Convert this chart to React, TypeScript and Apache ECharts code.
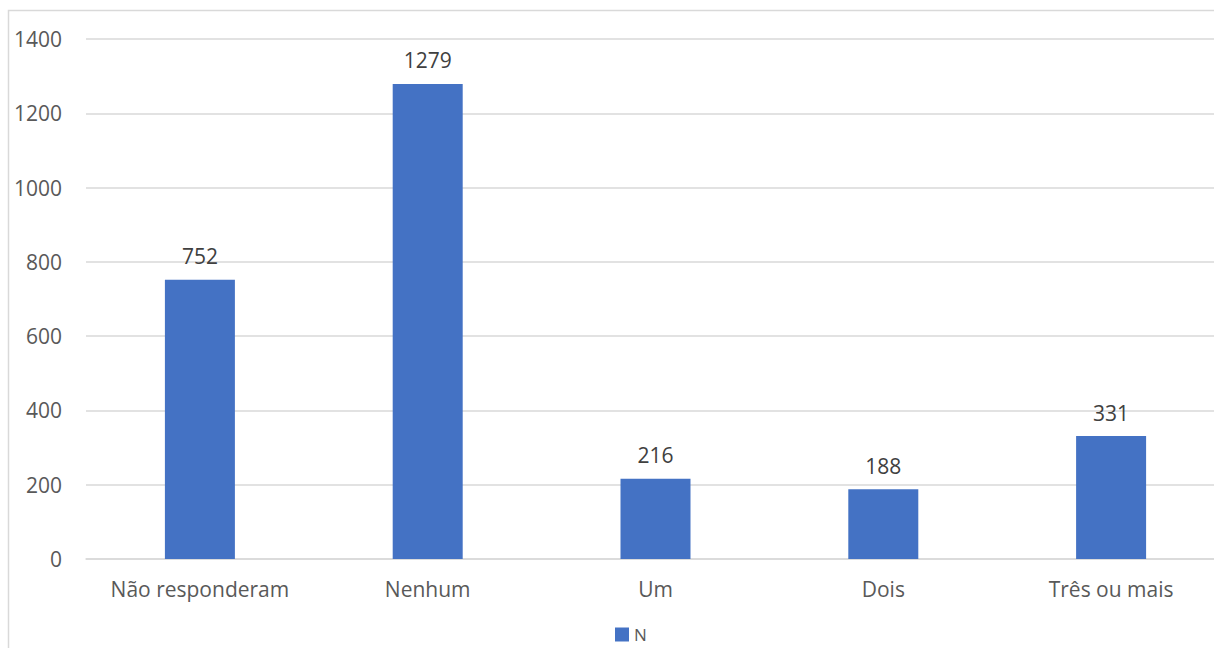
import React, { useEffect, useRef } from "react";
import * as echarts from "echarts";

const categories = ["Não responderam", "Nenhum", "Um", "Dois", "Três ou mais"];
const values = [752, 1279, 216, 188, 331];
const seriesName = "N";
const yMax = 1400;
const yInterval = 200;

const FONT = "'Open Sans', 'Noto Sans', sans-serif";
const TEXT_SIZE = 21;

export default function App() {
  const ref = useRef<HTMLDivElement>(null);

  useEffect(() => {
    if (!ref.current) return;
    const chart = echarts.init(ref.current, null, { renderer: "svg" });
    chart.setOption({
      animation: false,
      backgroundColor: "#ffffff",
      textStyle: { fontFamily: FONT },
      graphic: [
        {
          type: "rect",
          shape: { x: 8.5, y: 10.5, width: 1300, height: 700 },
          style: { fill: "none", stroke: "#d9d9d9", lineWidth: 1.5 },
          silent: true,
          z: -10,
        },
      ],
      grid: { left: 86, top: 39, width: 1139, height: 520, containLabel: false },
      legend: {
        data: [seriesName],
        left: 610,
        top: 621,
        itemWidth: 14,
        itemHeight: 14,
        itemGap: 5,
        icon: "rect",
        textStyle: { color: "#595959", fontSize: 17, fontFamily: FONT },
      },
      xAxis: {
        type: "category",
        data: categories,
        axisLine: { lineStyle: { color: "#d9d9d9", width: 1.5 } },
        axisTick: { show: false },
        axisLabel: {
          color: "#595959",
          fontSize: TEXT_SIZE,
          margin: 19,
          fontFamily: FONT,
          interval: 0,
        },
      },
      yAxis: {
        type: "value",
        min: 0,
        max: yMax,
        interval: yInterval,
        axisLine: { show: false },
        axisTick: { show: false },
        axisLabel: {
          color: "#595959",
          fontSize: TEXT_SIZE,
          margin: 24,
          fontFamily: FONT,
          formatter: (v: number) => String(v),
        },
        splitLine: { lineStyle: { color: "#d9d9d9", width: 1.5 } },
      },
      series: [
        {
          name: seriesName,
          type: "bar",
          data: values,
          barWidth: 70,
          itemStyle: { color: "#4472c4" },
          label: {
            show: true,
            position: "top",
            distance: 13,
            color: "#404040",
            fontSize: TEXT_SIZE,
            fontFamily: FONT,
          },
        },
      ],
    });
    return () => chart.dispose();
  }, []);

  return (
    <div style={{ position: "absolute", left: 0, top: 0, width: 1214, height: 648, overflow: "hidden" }}>
      <div ref={ref} style={{ width: 1240, height: 648 }} />
    </div>
  );
}
